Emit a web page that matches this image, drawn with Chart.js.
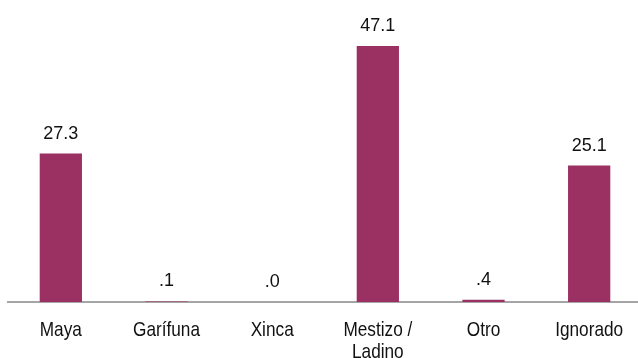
<!DOCTYPE html>
<html>
<head>
<meta charset="utf-8">
<script src="https://cdn.jsdelivr.net/npm/chart.js@4"></script>
<style>
  html, body { margin: 0; padding: 0; background: #fff; overflow: hidden; }
  #wrap { width: 642px; height: 358px; position: relative; }
</style>
</head>
<body>
<div id="wrap"><canvas id="barChart"></canvas></div>
<script>
// categories and values
var categories = ['Maya', 'Garífuna', 'Xinca', ['Mestizo /', 'Ladino'], 'Otro', 'Ignorado'];
var values = [27.3, 0.1, 0.0, 47.1, 0.4, 25.1];

var BAR_COLOR = '#9b3163';
var FONT = '"Liberation Sans", Arial, sans-serif';

// print 0.4 as ".4", like the original
function fmt(v) {
  var s = v.toFixed(1);
  if (s.indexOf('0.') === 0) s = s.substring(1);
  return s;
}

// value on top of each bar
var valueLabels = {
  id: 'valueLabels',
  afterDatasetsDraw: function(chart) {
    var ctx = chart.ctx;
    var meta = chart.getDatasetMeta(0);
    ctx.save();
    ctx.font = '18px ' + FONT;
    ctx.fillStyle = '#111';
    ctx.textAlign = 'center';
    ctx.textBaseline = 'alphabetic';
    meta.data.forEach(function(bar, i) {
      ctx.fillText(fmt(values[i]), bar.x, bar.y - 15);
    });
    ctx.restore();
  }
};

// category names, narrow face like Arial Narrow (squeezed horizontally)
var categoryLabels = {
  id: 'categoryLabels',
  afterDraw: function(chart) {
    var ctx = chart.ctx;
    var xs = chart.scales.x;
    var base = xs.top + 34;
    ctx.save();
    ctx.font = '21px ' + FONT;
    ctx.fillStyle = '#111';
    ctx.textAlign = 'center';
    ctx.textBaseline = 'alphabetic';
    categories.forEach(function(lab, i) {
      var lines = Array.isArray(lab) ? lab : [lab];
      var x = xs.getPixelForValue(i);
      lines.forEach(function(line, j) {
        ctx.save();
        ctx.translate(x, base + j * 22);
        ctx.scale(0.82, 1);
        ctx.fillText(line, 0, 0);
        ctx.restore();
      });
    });
    ctx.restore();
  }
};

var ctx = document.getElementById('barChart');
var myBarChart = new Chart(ctx, {
  type: 'bar',
  data: {
    labels: categories,
    datasets: [{
      data: values,
      backgroundColor: BAR_COLOR,
      barPercentage: 0.4,
      categoryPercentage: 1.0
    }]
  },
  plugins: [valueLabels, categoryLabels],
  options: {
    responsive: true,
    maintainAspectRatio: false,
    animation: false,
    layout: {
      padding: { left: 8, right: 0, top: 3, bottom: 0 }
    },
    plugins: {
      legend: { display: false },
      tooltip: { enabled: false }
    },
    scales: {
      x: {
        grid: { display: false },
        border: { display: true, color: '#a5a5a5', width: 2 },
        ticks: { display: false },
        afterFit: function(scale) { scale.height = 56; }
      },
      y: {
        display: false,
        min: 0,
        max: 55
      }
    }
  }
});
</script>
</body>
</html>
